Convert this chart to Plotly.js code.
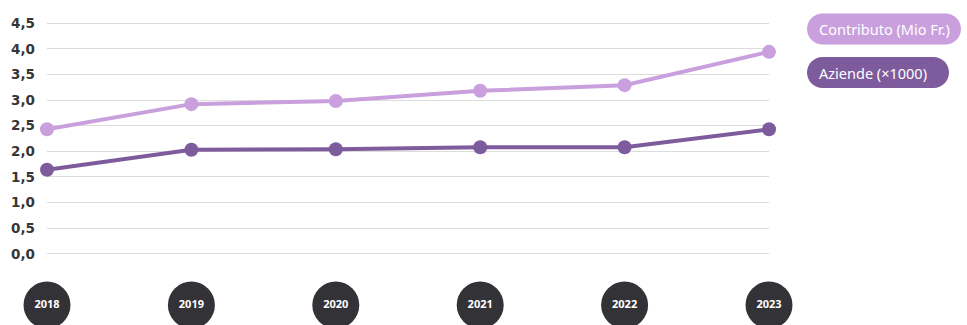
<!DOCTYPE html>
<html><head><meta charset="utf-8">
<script src="https://cdn.plot.ly/plotly-3.0.1.min.js"></script>
<style>html,body{margin:0;padding:0;background:#fff}#chart{width:967px;height:325px}</style>
</head><body><div id="chart"></div>
<script>
const years = ['2018','2019','2020','2021','2022','2023'];
const contributo = [2.43, 2.92, 2.98, 3.18, 3.29, 3.94];
const aziende = [1.64, 2.03, 2.04, 2.08, 2.08, 2.43];
const seriesNames = ['Contributo (Mio Fr.)', 'Aziende (×1000)'];
const colors = ['#c9a0dd', '#7e5b9c'];
const yTicks = [0, 0.5, 1, 1.5, 2, 2.5, 3, 3.5, 4, 4.5];

const font = 'Noto Sans, Open Sans, sans-serif';

const traces = [
  {x: years, y: contributo, name: seriesNames[0], mode: 'lines+markers', cliponaxis: false,
   line: {color: colors[0], width: 4}, marker: {color: colors[0], size: 14}},
  {x: years, y: aziende, name: seriesNames[1], mode: 'lines+markers', cliponaxis: false,
   line: {color: colors[1], width: 4}, marker: {color: colors[1], size: 14}},
  {x: years, y: years.map(() => 0), yaxis: 'y2', mode: 'markers+text', cliponaxis: false,
   text: years, textposition: 'middle center', hoverinfo: 'skip',
   textfont: {color: '#ffffff', size: 11, family: font, weight: 'bold'},
   marker: {color: '#333236', size: 47}}
];

function pill(x0, x1, yc, h) {
  const r = h / 2, k = 0.5523 * r;
  const t = yc + r, b = yc - r;
  return `M${x0 + r},${t} L${x1 - r},${t} C${x1 - r + k},${t} ${x1},${yc + k} ${x1},${yc} ` +
         `C${x1},${yc - k} ${x1 - r + k},${b} ${x1 - r},${b} L${x0 + r},${b} ` +
         `C${x0 + r - k},${b} ${x0},${yc - k} ${x0},${yc} C${x0},${yc + k} ${x0 + r - k},${t} ${x0 + r},${t} Z`;
}

const pills = [
  {x0: 38, x1: 192, yc: -11},
  {x0: 38, x1: 180, yc: -54.5}
];

const shapes = pills.map((p, i) => ({
  type: 'path', xref: 'paper', yref: 'paper', xsizemode: 'pixel', ysizemode: 'pixel',
  xanchor: 1, yanchor: 1, path: pill(p.x0, p.x1, p.yc, 31),
  fillcolor: colors[i], line: {width: 0}
}));

const annotations = pills.map((p, i) => ({
  xref: 'paper', yref: 'paper', x: 1, y: 1, xanchor: 'left', yanchor: 'middle',
  xshift: p.x0 + 10, yshift: p.yc, showarrow: false, text: seriesNames[i],
  font: {color: '#ffffff', size: 14.5, family: font}
}));

const layout = {
  width: 967, height: 325,
  margin: {l: 47, r: 198, t: 18, b: 0},
  paper_bgcolor: '#ffffff', plot_bgcolor: '#ffffff',
  separators: ',.',
  showlegend: false,
  xaxis: {type: 'category', range: [0, 5], showgrid: false, zeroline: false, showline: false,
          showticklabels: false, ticks: ''},
  yaxis: {domain: [0.215, 1], range: [-0.1, 4.6], tickvals: yTicks, tickformat: '.1f',
          showgrid: true, gridcolor: '#dcdcdc', gridwidth: 1, zeroline: false, showline: false,
          ticks: '', ticklabelstandoff: 11,
          tickfont: {family: 'DejaVu Sans, sans-serif', size: 13.5, color: '#363636', weight: 'bold'}},
  yaxis2: {domain: [0, 0.13], range: [-1, 1], visible: false, fixedrange: true},
  shapes: shapes,
  annotations: annotations
};

Plotly.newPlot('chart', traces, layout, {displayModeBar: false, staticPlot: true});
</script></body></html>
